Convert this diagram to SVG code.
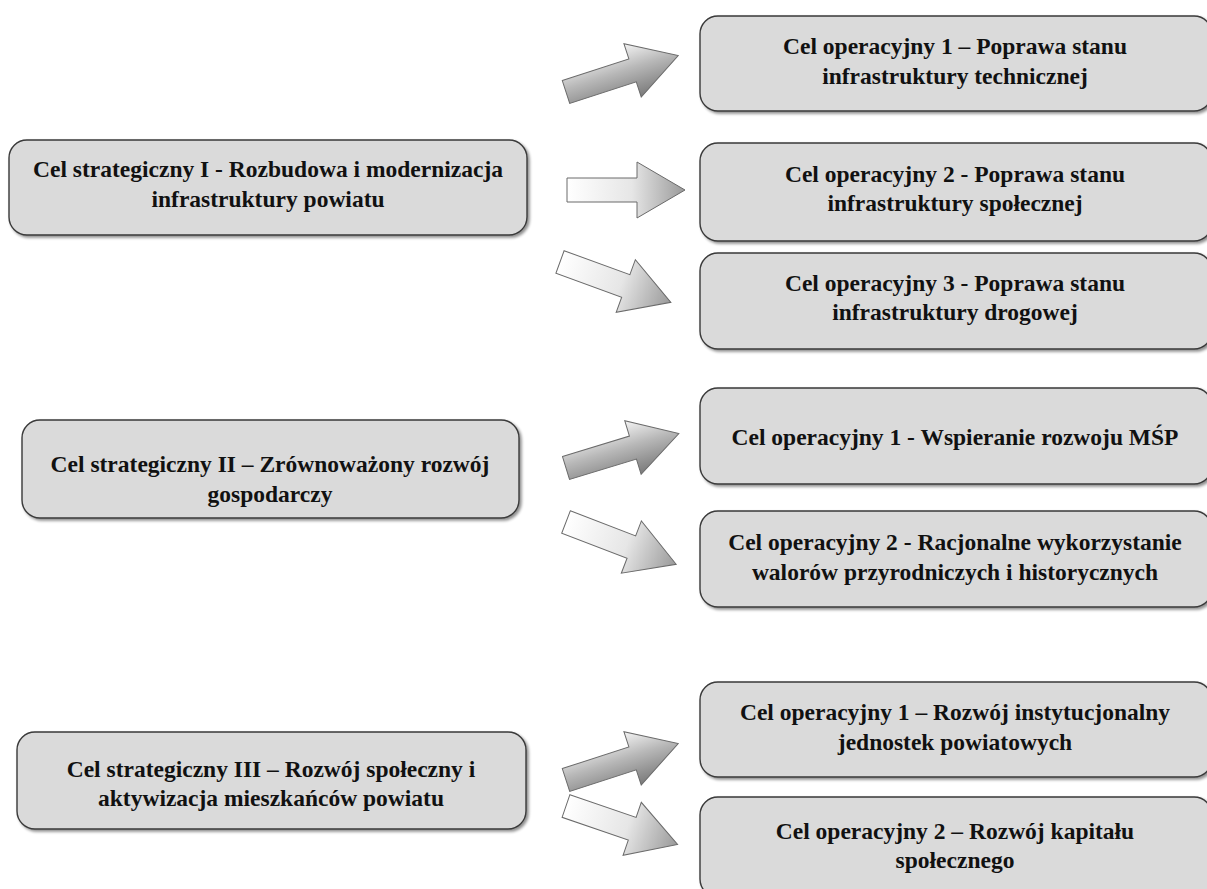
<svg xmlns="http://www.w3.org/2000/svg" width="1207" height="889" viewBox="0 0 1207 889">
<defs>
<linearGradient id="gUp" x1="0" y1="0" x2="0" y2="1">
<stop offset="0" stop-color="#f4f4f4"/>
<stop offset="0.45" stop-color="#b8b8b8"/>
<stop offset="1" stop-color="#7a7a7a"/>
</linearGradient>
<linearGradient id="gDown" x1="0" y1="0" x2="1" y2="0">
<stop offset="0" stop-color="#ffffff"/>
<stop offset="0.55" stop-color="#e6e6e6"/>
<stop offset="1" stop-color="#9a9a9a"/>
</linearGradient>
<filter id="sh" x="-5%" y="-5%" width="115%" height="125%">
<feGaussianBlur in="SourceAlpha" stdDeviation="1.5"/>
<feOffset dx="1.5" dy="2" result="o"/>
<feComponentTransfer><feFuncA type="linear" slope="0.45"/></feComponentTransfer>
<feMerge><feMergeNode/><feMergeNode in="SourceGraphic"/></feMerge>
</filter>
<path id="arr" d="M0,-12 L70,-12 L70,-28 L118,0 L70,28 L70,12 L0,12 Z"/>
</defs>
<style>
.box{fill:#dadada;stroke:#3a3a3a;stroke-width:1.4;filter:url(#sh)}
.t{font-family:"Liberation Serif","Times New Roman",serif;font-weight:bold;font-size:23.5px;fill:#111;text-anchor:middle}
.au{fill:url(#gUp);stroke:#6a6a6a;stroke-width:1}
.ad{fill:url(#gDown);stroke:#6a6a6a;stroke-width:1}
</style>
<rect width="1207" height="889" fill="#ffffff"/>

<g id="connectors">
<use href="#arr" class="au" transform="translate(566,92) rotate(-18)"/>
<use href="#arr" class="ad" transform="translate(567,190)"/>
<use href="#arr" class="ad" transform="translate(560,262) rotate(20)"/>
<use href="#arr" class="au" transform="translate(566,468) rotate(-17)"/>
<use href="#arr" class="ad" transform="translate(566,522) rotate(21)"/>
<use href="#arr" class="au" transform="translate(566,780) rotate(-18)"/>
<use href="#arr" class="ad" transform="translate(566,806) rotate(19)"/>
</g>

<g id="s1">
<rect class="box" x="9" y="140" width="518" height="95" rx="18"/>
<text class="t" x="268" y="177">Cel strategiczny I - Rozbudowa i modernizacja</text>
<text class="t" x="268" y="207">infrastruktury powiatu</text>
</g>
<g id="s2">
<rect class="box" x="22" y="420" width="497" height="98" rx="18"/>
<text class="t" x="270" y="472">Cel strategiczny II – Zrównoważony rozwój</text>
<text class="t" x="270" y="502">gospodarczy</text>
</g>
<g id="s3">
<rect class="box" x="17" y="732" width="509" height="97" rx="18"/>
<text class="t" x="271" y="777">Cel strategiczny III – Rozwój społeczny i</text>
<text class="t" x="271" y="806">aktywizacja mieszkańców powiatu</text>
</g>

<g id="r1">
<rect class="box" x="700" y="16" width="512" height="95" rx="18"/>
<text class="t" x="955" y="54">Cel operacyjny 1 – Poprawa stanu</text>
<text class="t" x="955" y="84">infrastruktury technicznej</text>
</g>
<g id="r2">
<rect class="box" x="700" y="143" width="512" height="98" rx="18"/>
<text class="t" x="955" y="182">Cel operacyjny 2 - Poprawa stanu</text>
<text class="t" x="955" y="211">infrastruktury społecznej</text>
</g>
<g id="r3">
<rect class="box" x="700" y="253" width="512" height="96" rx="18"/>
<text class="t" x="955" y="291">Cel operacyjny 3 - Poprawa stanu</text>
<text class="t" x="955" y="320">infrastruktury drogowej</text>
</g>
<g id="r4">
<rect class="box" x="700" y="388" width="512" height="96" rx="18"/>
<text class="t" x="955" y="445">Cel operacyjny 1 - Wspieranie rozwoju MŚP</text>
</g>
<g id="r5">
<rect class="box" x="700" y="511" width="512" height="96" rx="18"/>
<text class="t" x="955" y="550">Cel operacyjny 2 - Racjonalne wykorzystanie</text>
<text class="t" x="955" y="580">walorów przyrodniczych i historycznych</text>
</g>
<g id="r6">
<rect class="box" x="700" y="682" width="512" height="95" rx="18"/>
<text class="t" x="955" y="720">Cel operacyjny 1 – Rozwój instytucjonalny</text>
<text class="t" x="955" y="750">jednostek powiatowych</text>
</g>
<g id="r7">
<rect class="box" x="700" y="797" width="512" height="100" rx="18"/>
<text class="t" x="955" y="839">Cel operacyjny 2 – Rozwój kapitału</text>
<text class="t" x="955" y="868">społecznego</text>
</g>
</svg>
